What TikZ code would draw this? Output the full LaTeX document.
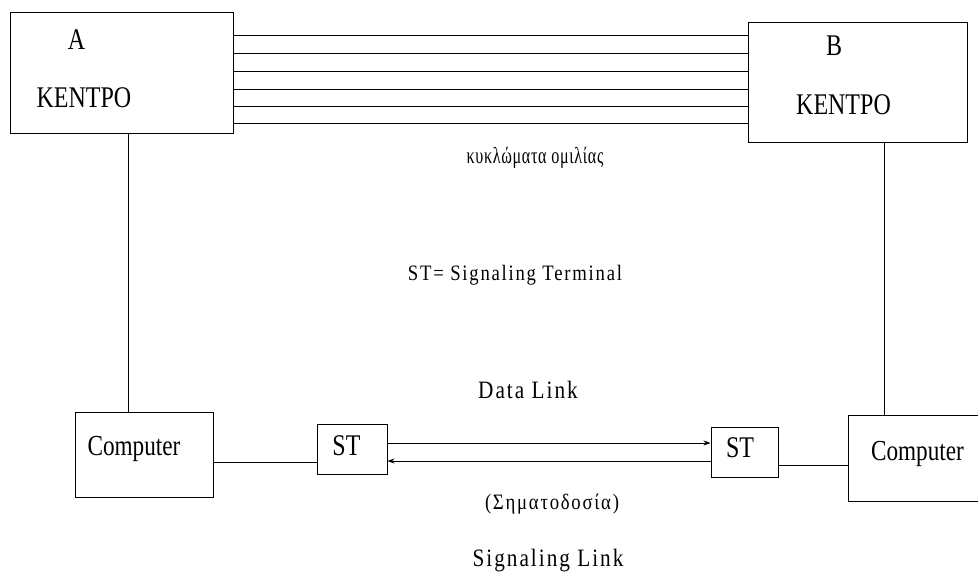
\documentclass[tikz,border=0pt]{standalone}
\usepackage{fontspec}
\setmainfont{Liberation Serif}
\newfontfamily\condfont[FakeStretch=0.8]{Liberation Serif}
\newfontfamily\labfont[FakeStretch=0.85,LetterSpace=8]{Liberation Serif}
\newfontfamily\grkfont[FakeStretch=0.7,LetterSpace=3]{Liberation Serif}
\usetikzlibrary{arrows.meta}
\begin{document}
\begin{tikzpicture}[x=1pt,y=-1pt,
  box/.style={draw,line width=0.9pt,inner sep=0pt,minimum width=#1},
  big/.style={inner sep=0pt,anchor=base,font=\condfont\fontsize{30}{34}\selectfont},
  mid/.style={inner sep=0pt,anchor=base,font=\condfont\fontsize{29}{34}\selectfont},
  lab/.style={inner sep=0pt,anchor=base,font=\labfont\fontsize{22}{26}\selectfont},
  labb/.style={inner sep=0pt,anchor=base,font=\labfont\fontsize{25}{28}\selectfont},
  grk/.style={inner sep=0pt,anchor=base,font=\grkfont\fontsize{23}{26}\selectfont},
  wire/.style={line width=0.9pt},
  tip/.style={-{Stealth[length=7pt,width=5pt]}}]
\useasboundingbox (0,0) rectangle (978,584);
\fill[white] (0,0) rectangle (978,584);
% boxes
\node[box=223pt,minimum height=121pt] (A) at (121.5,72.5) {};
\node[box=219pt,minimum height=120pt] (B) at (857.5,82) {};
\node[box=138pt,minimum height=85pt] (CL) at (144,454.5) {};
\node[box=152pt,minimum height=86pt] (CR) at (924,458) {};
\node[box=70pt,minimum height=50pt] (SL) at (352,449) {};
\node[box=67pt,minimum height=50pt] (SR) at (744.5,452) {};
% texts in boxes
\node[big] (tA) at (76.5,49) {A};
\node[big] (kA) at (84,107) {KENTPO};
\node[big] (tB) at (834,55) {B};
\node[big] (kB) at (843.5,114) {KENTPO};
\node[mid] (cL) at (134,455) {Computer};
\node[mid] (cR) at (917.5,460) {Computer};
\node[big] (sL) at (346.5,455) {ST};
\node[big] (sR) at (740,457) {ST};
% free labels
\node[grk] (kyk) at (535,163) {κυκλώματα ομιλίας};
\node[lab] (def) at (515,280) {ST= Signaling Terminal};
\node[labb] (dl) at (528,398) {Data Link};
\node[lab] (sim) at (552,509) {(Σηματοδοσία)};
\node[labb] (sig) at (548,566) {Signaling Link};
% speech circuits
\foreach \yy in {35,53,71,89,106,123}
  \draw[wire] (A.east |- 0,\yy) -- (B.west |- 0,\yy);
% verticals
\draw[wire] (A.south -| 128,0) -- (CL.north -| 128,0);
\draw[wire] (B.south -| 884,0) -- (CR.north -| 884,0);
% horizontal links
\draw[wire] (CL.east |- 0,462) -- (SL.west |- 0,462);
\draw[wire,tip] (SL.east |- 0,443) -- (SR.west |- 0,443);
\draw[wire,tip] (SR.west |- 0,461) -- (SL.east |- 0,461);
\draw[wire] (SR.east |- 0,465) -- (CR.west |- 0,465);
\end{tikzpicture}
\end{document}
